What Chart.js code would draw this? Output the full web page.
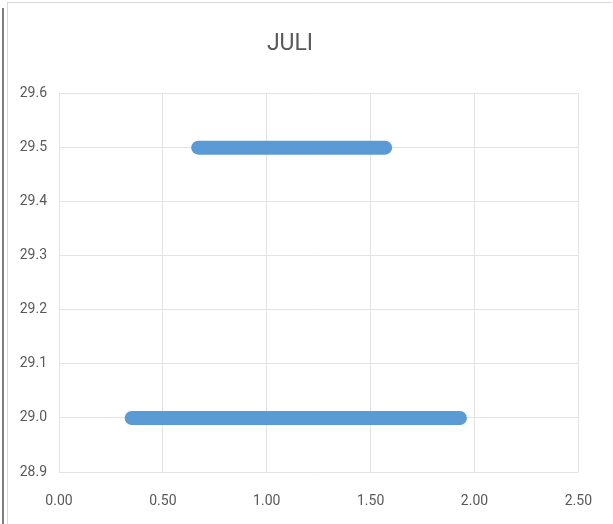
<!DOCTYPE html>
<html>
<head>
<meta charset="utf-8">
<script src="https://cdn.jsdelivr.net/npm/chart.js@4.4.1/dist/chart.umd.min.js"></script>
<style>
    html, body { margin: 0; padding: 0; background: #fff; }
    #frame { position: absolute; left: 2px; top: 8px; width: 2px; height: 516px; background: #7f7f7f; }
    #box { position: absolute; left: 7px; top: 2px; width: 604px; height: 521px; border: 1px solid #d9d9d9; border-right: none; border-bottom: none; }
    #wrap { position: absolute; left: 0; top: 0; width: 613px; height: 524px; }
</style>
</head>
<body>
<div id="frame"></div>
<div id="box"></div>
<div id="wrap"><canvas id="chart" width="613" height="524"></canvas></div>
<script>
// values: each run of points sits at one level
const levels = [29.5, 29.0];
const runStart = [0.67, 0.35];
const runEnd = [1.57, 1.93];
const xTicks = [0, 0.5, 1, 1.5, 2, 2.5];
const yTicks = [28.9, 29.0, 29.1, 29.2, 29.3, 29.4, 29.5, 29.6];

const fontFamily = "'Liberation Sans Narrow', Roboto, sans-serif";
const labelFont = { family: fontFamily, size: 14 };

document.addEventListener("DOMContentLoaded", () => {
    const datasets = levels.map((y, i) => ({
        data: [{ x: runStart[i], y: y }, { x: runEnd[i], y: y }],
        showLine: true,
        borderColor: "#5b9bd5",
        backgroundColor: "#5b9bd5",
        borderWidth: 14,
        borderCapStyle: "round",
        pointRadius: 0,
    }));

    const ctx = document.getElementById("chart").getContext("2d");
    new Chart(ctx, {
        type: "scatter",
        data: { datasets },
        options: {
            responsive: false,
            animation: false,
            layout: { padding: { left: 0, right: 33, top: 0, bottom: 12 } },
            plugins: {
                legend: { display: false },
                tooltip: { enabled: false },
                title: {
                    display: true,
                    text: "JULI",
                    color: "#595959",
                    font: { family: fontFamily, size: 23, weight: "normal" },
                    padding: { top: 30, bottom: 36 },
                },
            },
            scales: {
                x: {
                    type: "linear",
                    min: 0,
                    max: 2.5,
                    afterBuildTicks: (scale) => { scale.ticks = xTicks.map(v => ({ value: v })); },
                    afterFit: (scale) => { scale.height = 40; },
                    grid: { color: "#e3e3e3", drawTicks: false },
                    border: { display: false },
                    ticks: {
                        color: "#595959",
                        font: labelFont,
                        padding: 21,
                        maxRotation: 0,
                        callback: (v) => Number(v).toFixed(2),
                    },
                },
                y: {
                    type: "linear",
                    min: 28.9,
                    max: 29.6,
                    afterBuildTicks: (scale) => { scale.ticks = yTicks.map(v => ({ value: v })); },
                    afterFit: (scale) => { scale.width = 59; },
                    grid: { color: "#e3e3e3", drawTicks: false },
                    border: { display: false },
                    ticks: {
                        color: "#595959",
                        font: labelFont,
                        padding: 12,
                        callback: (v) => Number(v).toFixed(1),
                    },
                },
            },
        },
    });
});
</script>
</body>
</html>
